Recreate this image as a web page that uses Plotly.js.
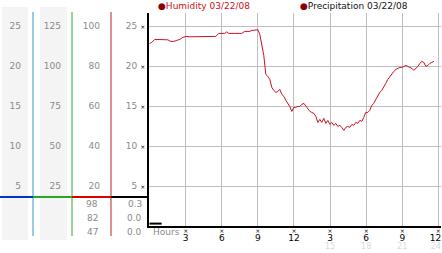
<!DOCTYPE html>
<html><head><meta charset="utf-8">
<script src="https://cdn.plot.ly/plotly-3.0.1.min.js"></script>
<style>html,body{margin:0;padding:0;background:#fff}#chart{width:442px;height:253px}</style>
</head><body><div id="chart"></div>
<script>
// ---- data ----
const hours = [0,0.18,0.43,0.85,1.26,1.51,1.76,2.01,2.26,2.51,2.76,3.01,3.34,4.17,5.0,5.5,5.75,6.25,6.42,6.58,7.08,7.66,7.91,8.33,8.5,8.66,8.83,9.0,
9.16,9.33,9.49,9.66,9.83,9.99,10.16,10.32,10.49,10.66,10.82,10.99,11.16,11.32,11.49,11.65,11.82,11.99,12.15,12.32,12.49,12.65,12.82,12.98,
13.15,13.32,13.48,13.65,13.82,13.98,14.15,14.31,14.48,14.65,14.81,14.98,15.15,15.31,15.48,15.64,15.81,15.98,16.14,16.31,16.47,16.64,16.81,16.97,
17.14,17.31,17.47,17.64,17.8,17.97,18.14,18.3,18.47,18.64,18.8,18.97,19.14,19.3,19.47,19.63,19.8,19.97,20.13,20.3,20.47,20.63,20.8,20.97,
21.13,21.3,21.46,21.63,21.8,21.96,22.13,22.3,22.46,22.63,22.79,22.96,23.13,23.29,23.46,23.63];
const humidity = [91.3,91.8,93.3,93.3,93.3,93.1,92.3,92.3,92.8,93.3,94.3,94.8,94.6,94.6,94.6,94.8,96.3,96.3,97.1,96.3,96.3,96.3,97.3,97.3,97.8,97.8,98.1,98.1,
95.8,90.8,85.3,75.8,74.8,73.3,69.3,67.8,66.8,67.3,68.3,65.8,64.8,62.8,61.3,59.8,57.3,59.3,59.3,59.8,59.8,60.8,61.3,59.8,
58.3,57.3,56.8,56.3,54.8,51.8,53.3,51.8,53.8,51.3,52.8,50.8,51.8,50.3,51.3,49.8,50.3,49.3,47.8,49.3,49.8,49.3,50.8,50.3,
51.8,51.3,52.8,52.3,54.3,56.8,56.8,57.8,60.3,61.3,63.3,65.3,66.8,67.8,69.3,71.3,73.3,74.8,76.3,77.3,78.3,78.8,79.3,79.3,
79.8,80.3,79.8,79.3,78.8,77.8,78.8,79.8,81.3,82.3,81.8,79.8,80.3,81.3,81.8,82.3];
const precipHours = [0, 1];
const precipValues = [0.3, 0.3];

const col1Ticks = [5,10,15,20,25];
const col2Ticks = [25,50,75,100,125];
const col3Ticks = [20,40,60,80,100];
const col4Ticks = [5,10,15,20,25];
const xTickVals = [3,6,9,12,15,18,21,24];
const xTickNumbers = ['3','6','9','12','3','6','9','12'];
const xTickAlt = ['','','','','15','18','21','24'];
const humidityStats = ['98','82','47'];
const precipStats = ['0.3','0.0','0.0'];
const legendHumidity = 'Humidity 03/22/08';
const legendPrecip = 'Precipitation 03/22/08';

// ---- layout helpers ----
const W = 441, TOP = 13, PH = 213;
const px = v => v / W;
const py = v => (TOP + PH - v) / PH;
const FONT = 'DejaVu Sans, sans-serif';
const GRAY = '#8a8a8a';
const MARK = '<span style="font-size:6px;color:#000">×</span>';
const lastPad = i => (i === xTickVals.length - 1 ? '\u00a0\u00a0' : '');

const xTickText = xTickVals.map((v, i) =>
  '<span style="font-size:6px">×</span><br><span style="font-size:9px">' + xTickNumbers[i] + lastPad(i) + '</span>' +
  (xTickAlt[i] ? '<br><span style="font-size:8px;color:#d8d8d8">' + xTickAlt[i] + lastPad(i) + '</span>' : ''));
const yTickText = col4Ticks.map(v => v + ' ' + MARK);

const traces = [
  {x: hours, y: humidity, yaxis: 'y4', type: 'scatter', mode: 'lines',
   line: {color: '#cc1122', width: 1}, showlegend: false, hoverinfo: 'skip'},
  {x: precipHours, y: precipValues, type: 'scatter', mode: 'lines',
   line: {color: '#000', width: 2}, showlegend: false, hoverinfo: 'skip'},
  {x: [], y: [], yaxis: 'y2', type: 'scatter', mode: 'lines', showlegend: false, hoverinfo: 'skip'},
  {x: [], y: [], yaxis: 'y3', type: 'scatter', mode: 'lines', showlegend: false, hoverinfo: 'skip'}
];

const sideAxis = (pos, ticks, range) => ({
  overlaying: 'y', anchor: 'free', position: pos, side: 'left', range: range,
  tickvals: ticks, ticks: '', showgrid: false, zeroline: false, showline: false,
  tickfont: {family: FONT, size: 9, color: GRAY}, fixedrange: true
});

const vline = (x, color) => ({type: 'line', xref: 'paper', yref: 'paper',
  x0: px(x), x1: px(x), y0: py(12), y1: py(236), line: {color: color, width: 1}, layer: 'above'});
const hseg = (a, b, color) => ({type: 'line', xref: 'paper', yref: 'paper',
  x0: px(a), x1: px(b), y0: py(197), y1: py(197), line: {color: color, width: 2}, layer: 'above'});
const bg = (a, b) => ({type: 'rect', xref: 'paper', yref: 'paper',
  x0: px(a), x1: px(b), y0: py(240), y1: py(7), fillcolor: '#f4f4f4', line: {width: 0}, layer: 'below'});

const annotations = [
  {xref: 'paper', yref: 'paper', x: px(156), y: py(6), xanchor: 'left', yanchor: 'middle', showarrow: false,
   text: '<span style="color:#8b0000">●</span>' + legendHumidity, font: {family: FONT, size: 9, color: '#cc1122'}},
  {xref: 'paper', yref: 'paper', x: px(298), y: py(6), xanchor: 'left', yanchor: 'middle', showarrow: false,
   text: '<span style="color:#8b0000">●</span>' + legendPrecip, font: {family: FONT, size: 9, color: '#111'}},
  {xref: 'paper', yref: 'paper', x: px(151), y: py(232), xanchor: 'left', yanchor: 'middle', showarrow: false,
   text: 'Hours', font: {family: FONT, size: 9, color: GRAY}}
];
const statY = [204, 218, 232];
humidityStats.forEach((t, i) => annotations.push({xref: 'paper', yref: 'paper', x: px(100), y: py(statY[i]),
  xanchor: 'right', yanchor: 'middle', showarrow: false, text: t, font: {family: FONT, size: 9, color: GRAY}}));
precipStats.forEach((t, i) => annotations.push({xref: 'paper', yref: 'paper', x: px(144), y: py(statY[i]),
  xanchor: 'right', yanchor: 'middle', showarrow: false, text: t, font: {family: FONT, size: 9, color: GRAY}}));

const layout = {
  width: 442, height: 253,
  margin: {l: 0, r: 1, t: TOP, b: 253 - TOP - PH, pad: 0},
  paper_bgcolor: '#fff', plot_bgcolor: '#fff', showlegend: false,
  font: {family: FONT, size: 9, color: GRAY},
  xaxis: {domain: [px(149), 1], range: [-0.05, 24.22], tickvals: xTickVals, ticktext: xTickText,
    ticks: '', showgrid: true, gridcolor: '#bdbdbd', gridwidth: 1, zeroline: false, ticklabeloverflow: 'allow',
    ticklabelstandoff: -2,
    showline: true, linecolor: '#000', linewidth: 2, tickfont: {family: FONT, size: 6, color: '#000'}, fixedrange: true},
  yaxis: {range: [0, 26.625], tickvals: col4Ticks, ticktext: yTickText, ticks: '',
    showgrid: true, gridcolor: '#bdbdbd', gridwidth: 1, zeroline: false,
    showline: true, linecolor: '#000', linewidth: 2, tickfont: {family: FONT, size: 9, color: GRAY}, fixedrange: true},
  yaxis2: sideAxis(px(21), col1Ticks, [0, 26.625]),
  yaxis3: sideAxis(px(61), col2Ticks, [0, 133.125]),
  yaxis4: sideAxis(px(100), col3Ticks, [0, 106.5]),
  shapes: [bg(2, 28), bg(40, 67), vline(33, '#3399cc'), vline(72, '#33aa33'), vline(111, '#bb2222'),
    hseg(0, 33, '#0033cc'), hseg(33, 72, '#22aa22'), hseg(72, 111, '#dd0000'), hseg(111, 149, '#000')],
  annotations: annotations
};

Plotly.newPlot('chart', traces, layout, {displayModeBar: false, staticPlot: true});
</script></body></html>
